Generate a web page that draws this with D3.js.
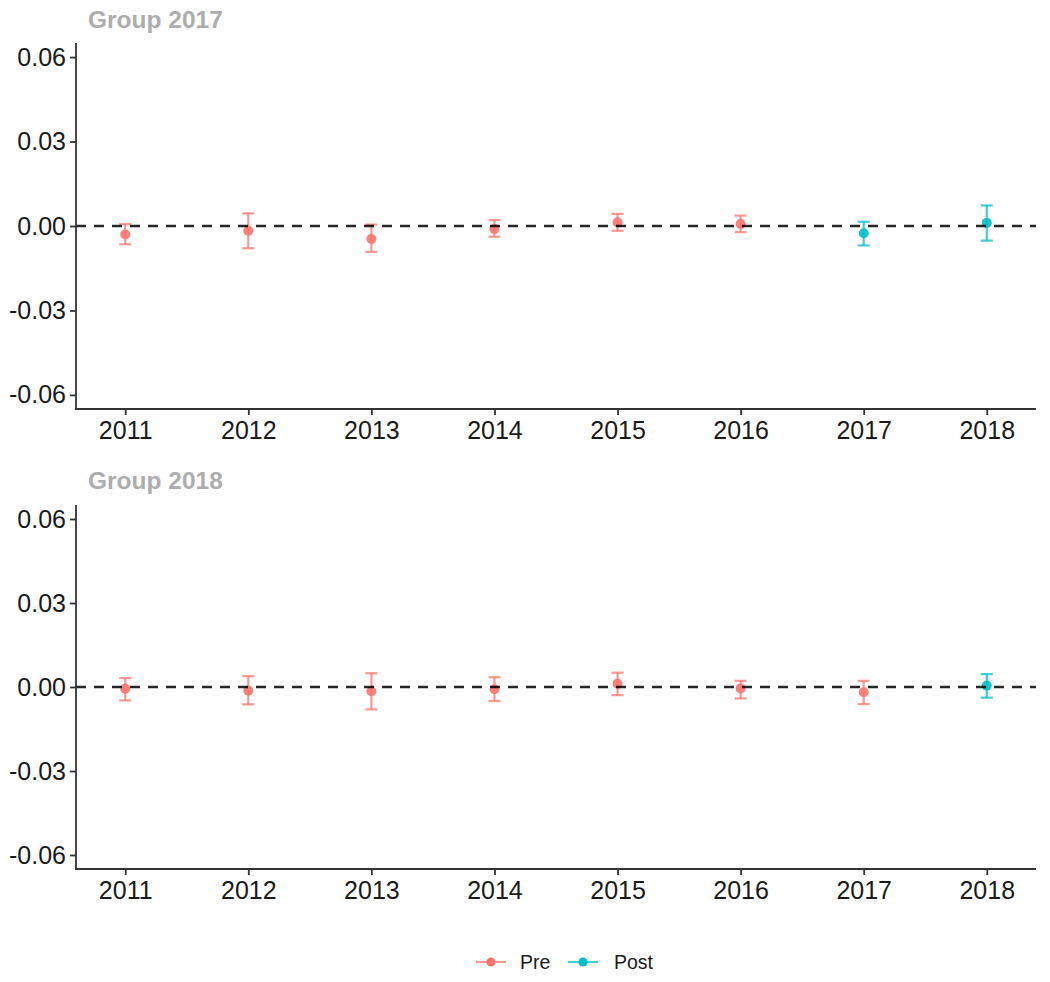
<!DOCTYPE html>
<html>
<head>
<meta charset="utf-8">
<script src="https://cdn.jsdelivr.net/npm/d3@7"></script>
<style>
  html, body { margin: 0; padding: 0; background: #ffffff; }
  svg { display: block; font-family: "Liberation Sans", Arial, sans-serif; }
</style>
</head>
<body>
<svg id="chart" width="1050" height="982"></svg>
<script>
// ---- Data ----
const years = [2011, 2012, 2013, 2014, 2015, 2016, 2017, 2018];
const yTicks = [-0.06, -0.03, 0.00, 0.03, 0.06];
const yTickLabels = ["-0.06", "-0.03", "0.00", "0.03", "0.06"];
const groupTitles = ["Group 2017", "Group 2018"];

const g2017Est = [-0.0030, -0.0017, -0.0046, -0.0011, 0.0013, 0.0007, -0.0026, 0.0011];
const g2017Lo  = [-0.0065, -0.0079, -0.0092, -0.0038, -0.0017, -0.0022, -0.0069, -0.0052];
const g2017Hi  = [ 0.0007,  0.0045,  0.0005,  0.0021,  0.0043,  0.0037,  0.0015,  0.0073];
const g2017Period = ["Pre", "Pre", "Pre", "Pre", "Pre", "Pre", "Post", "Post"];

const g2018Est = [-0.0006, -0.0013, -0.0015, -0.0008, 0.0012, -0.0005, -0.0019, 0.0005];
const g2018Lo  = [-0.0048, -0.0062, -0.0080, -0.0050, -0.0029, -0.0041, -0.0061, -0.0038];
const g2018Hi  = [ 0.0032,  0.0039,  0.0049,  0.0035,  0.0051,  0.0022,  0.0022,  0.0046];
const g2018Period = ["Pre", "Pre", "Pre", "Pre", "Pre", "Pre", "Pre", "Post"];

const periods = ["Pre", "Post"];
const periodColors = ["#F8766D", "#00BFC4"];

// ---- Layout ----
const svg = d3.select("#chart");
const color = d3.scaleOrdinal().domain(periods).range(periodColors);
const x = d3.scaleLinear().domain([2010.6, 2018.4]).range([76, 1036]);

const panels = [
  { title: groupTitles[0], est: g2017Est, lo: g2017Lo, hi: g2017Hi, period: g2017Period, top: 43, bottom: 409, titleY: 28 },
  { title: groupTitles[1], est: g2018Est, lo: g2018Lo, hi: g2018Hi, period: g2018Period, top: 505, bottom: 869, titleY: 489 }
];

panels.forEach(p => {
  const y = d3.scaleLinear().domain([-0.065, 0.065]).range([p.bottom, p.top]);
  const g = svg.append("g");

  g.append("text")
    .attr("x", 88).attr("y", p.titleY)
    .attr("font-size", 24.5).attr("font-weight", "bold")
    .attr("fill", "#ADADAD")
    .text(p.title);

  const rows = years.map((yr, i) => ({ yr, est: p.est[i], lo: p.lo[i], hi: p.hi[i], period: p.period[i] }));

  // error bars
  const eb = g.append("g").attr("stroke-width", 2.2).attr("fill", "none");
  rows.forEach(d => {
    const c = color(d.period);
    const gg = eb.append("g").attr("stroke", c).attr("stroke-opacity", 0.75);
    gg.append("line").attr("x1", x(d.yr)).attr("x2", x(d.yr)).attr("y1", y(d.lo)).attr("y2", y(d.hi));
    gg.append("line").attr("x1", x(d.yr) - 6).attr("x2", x(d.yr) + 6).attr("y1", y(d.lo)).attr("y2", y(d.lo));
    gg.append("line").attr("x1", x(d.yr) - 6).attr("x2", x(d.yr) + 6).attr("y1", y(d.hi)).attr("y2", y(d.hi));
  });

  g.append("g").selectAll("circle").data(rows).join("circle")
    .attr("cx", d => x(d.yr)).attr("cy", d => y(d.est)).attr("r", 5)
    .attr("fill", d => color(d.period)).attr("fill-opacity", 0.9);

  // dashed zero line
  g.append("line")
    .attr("x1", 76).attr("x2", 1036).attr("y1", y(0)).attr("y2", y(0))
    .attr("stroke", "#000").attr("stroke-opacity", 0.85).attr("stroke-width", 2.4).attr("stroke-dasharray", "10,8");

  // axes
  const yAxis = d3.axisLeft(y).tickValues(yTicks).tickSize(6).tickPadding(4)
    .tickFormat((d, i) => yTickLabels[i]);
  const ya = g.append("g").attr("transform", "translate(76,0)").call(yAxis);
  ya.select(".domain").remove();
  ya.append("line").attr("x1", 0).attr("x2", 0).attr("y1", p.top).attr("y2", p.bottom + 0.9)
    .attr("stroke", "#333").attr("stroke-width", 1.8);

  const xAxis = d3.axisBottom(x).tickValues(years).tickSize(6).tickPadding(6).tickFormat(d3.format("d"));
  const xa = g.append("g").attr("transform", `translate(0,${p.bottom})`).call(xAxis);
  xa.select(".domain").remove();
  xa.append("line").attr("x1", 75.1).attr("x2", 1036).attr("y1", 0).attr("y2", 0)
    .attr("stroke", "#333").attr("stroke-width", 1.8);

  [ya, xa].forEach(a => {
    a.selectAll(".tick line").attr("stroke", "#333").attr("stroke-width", 1.8);
    a.selectAll(".tick text").attr("fill", "#1a1a1a").attr("font-size", 25)
      .attr("font-family", "'Liberation Sans', Arial, sans-serif");
  });
});

// ---- Legend ----
const legend = svg.append("g").attr("transform", "translate(0,962)");
const legendItems = [
  { key: periods[0], lx: 476, tx: 520 },
  { key: periods[1], lx: 568, tx: 614 }
];
legendItems.forEach(it => {
  const c = color(it.key);
  legend.append("line").attr("x1", it.lx).attr("x2", it.lx + 30).attr("y1", 0).attr("y2", 0)
    .attr("stroke", c).attr("stroke-width", 2.2).attr("stroke-opacity", 0.75);
  legend.append("circle").attr("cx", it.lx + 15).attr("cy", 0).attr("r", 4.5).attr("fill", c);
  legend.append("text").attr("x", it.tx).attr("y", 7).attr("font-size", 19.5).attr("fill", "#1a1a1a").text(it.key);
});
</script>
</body>
</html>
